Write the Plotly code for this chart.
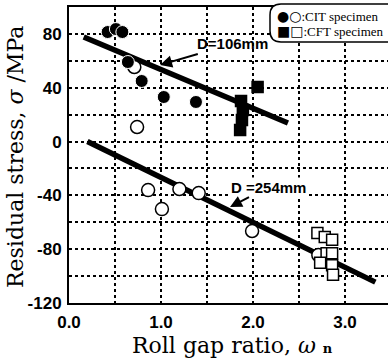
import plotly.graph_objects as go

# ---- data ----
# CIT specimens, D = 106 mm (filled circles)
cit106_filled_x = [0.42, 0.51, 0.58, 0.64, 0.79, 1.03, 1.38]
cit106_filled_y = [81.4, 83.6, 81.4, 59.1, 45.0, 33.1, 29.4]
# CIT specimens, D = 106 mm (open circles)
cit106_open_x = [0.71, 0.74]
cit106_open_y = [55.4, 10.8]
# CIT specimens, D = 254 mm (open circles)
cit254_x = [0.86, 1.01, 1.20, 1.41, 1.99, 2.71]
cit254_y = [-36.1, -50.2, -35.3, -38.3, -66.5, -84.4]
# CFT specimens, D = 106 mm (filled squares)
cft106_x = [2.05, 1.87, 1.89, 1.88, 1.86]
cft106_y = [40.5, 30.1, 23.4, 16.0, 8.5]
# CFT specimens, D = 254 mm (open squares)
cft254_x = [2.70, 2.78, 2.86, 2.80, 2.86, 2.73, 2.86, 2.87]
cft254_y = [-68, -71, -73, -83, -83, -90, -92, -99]
# regression lines
fit106_x = [0.16, 2.38]
fit106_y = [77.7, 13.8]
fit254_x = [0.20, 3.33]
fit254_y = [0.0, -104.5]

y_ticks = [-120, -100, -80, -60, -40, -20, 0, 20, 40, 60, 80, 100]
y_labels = ["-120", "", "-80", "", "-40", "", "0", "", "40", "", "80", ""]
x_ticks = [0.0, 0.5, 1.0, 1.5, 2.0, 2.5, 3.0]
x_labels = ["0.0", "", "1.0", "", "2.0", "", "3.0"]

fig = go.Figure()

fig.add_trace(go.Scatter(x=fit106_x, y=fit106_y, mode="lines",
                         line=dict(color="black", width=5.5)))
fig.add_trace(go.Scatter(x=fit254_x, y=fit254_y, mode="lines",
                         line=dict(color="black", width=5.5)))

fig.add_trace(go.Scatter(x=cit106_open_x, y=cit106_open_y, mode="markers",
                         marker=dict(symbol="circle", size=13, color="white",
                                     line=dict(color="black", width=1.5))))
fig.add_trace(go.Scatter(x=cit106_filled_x, y=cit106_filled_y, mode="markers",
                         marker=dict(symbol="circle", size=13, color="black",
                                     line=dict(color="white", width=1))))
fig.add_trace(go.Scatter(x=cit254_x, y=cit254_y, mode="markers",
                         marker=dict(symbol="circle", size=13, color="white",
                                     line=dict(color="black", width=1.5))))
fig.add_trace(go.Scatter(x=cft106_x, y=cft106_y, mode="markers",
                         marker=dict(symbol="square", size=11, color="black",
                                     line=dict(color="black", width=1.5))))
fig.add_trace(go.Scatter(x=cft254_x, y=cft254_y, mode="markers",
                         marker=dict(symbol="square", size=11, color="white",
                                     line=dict(color="black", width=1.5))))

L, T, B = 69, 7, 57
W, H = 388, 360
pw, ph = W - L, H - T - B


def px(xp):
    return (xp - L) / pw


def py(yp):
    return (H - B - yp) / ph


# rounded legend box
x0, x1, y0, y1, r = px(270), px(400), py(4), py(42), 11
rx, ry = r / pw, r / ph
path = (f"M {x0+rx},{y0} L {x1},{y0} L {x1},{y1} L {x0+rx},{y1} "
        f"Q {x0},{y1} {x0},{y1+ry} L {x0},{y0-ry} Q {x0},{y0} {x0+rx},{y0} Z")
fig.add_shape(type="path", path=path, xref="paper", yref="paper",
              line=dict(color="black", width=1.5), fillcolor="white", layer="above")

serif = "Liberation Serif"
sym = "<span style='font-family:DejaVu Sans;font-size:14px'>%s</span>"
fig.add_annotation(x=px(275), y=py(16), xref="paper", yref="paper",
                   text=sym % "●○" + ":CIT specimen", showarrow=False,
                   xanchor="left", yanchor="middle",
                   font=dict(family=serif, size=13, color="black"))
fig.add_annotation(x=px(275), y=py(31), xref="paper", yref="paper",
                   text=sym % "■□" + ":CFT specimen", showarrow=False,
                   xanchor="left", yanchor="middle",
                   font=dict(family=serif, size=13, color="black"))

bold = dict(family="Liberation Sans", size=15, color="black", weight="bold")
fig.add_annotation(x=0.99, y=56.9, xref="x", yref="y", text="D=106mm",
                   showarrow=True, ax=72, ay=-21, arrowhead=2, arrowsize=1.2,
                   arrowwidth=2, arrowcolor="black", font=bold,
                   xanchor="center", yanchor="middle")
fig.add_annotation(x=1.75, y=-48.7, xref="x", yref="y", text="D =254mm",
                   showarrow=True, ax=38, ay=-20, arrowhead=2, arrowsize=1.2,
                   arrowwidth=2, arrowcolor="black", font=bold, bgcolor="white",
                   xanchor="center", yanchor="middle")

# axis titles
title_font = dict(family="DejaVu Serif", size=22, color="black")
fig.add_annotation(x=px(15), y=py(157), xref="paper", yref="paper",
                   text="Residual stress, <i>σ</i> /MPa", textangle=-90,
                   showarrow=False, font=title_font,
                   xanchor="center", yanchor="middle")
fig.add_annotation(x=px(232), y=py(345), xref="paper", yref="paper",
                   text="Roll gap ratio, <i>ω</i> <b><span style='font-size:13px'>n</span></b>",
                   showarrow=False, font=title_font,
                   xanchor="center", yanchor="middle")

tickfont = dict(family="Liberation Sans", size=17, color="black", weight="bold")
fig.update_xaxes(range=[0, pw / 92.0], tickvals=x_ticks, ticktext=x_labels,
                 showgrid=True, gridcolor="black", griddash="dot", gridwidth=1.5,
                 showline=True, linecolor="black", linewidth=2, mirror=True,
                 ticks="", tickfont=tickfont, zeroline=False, ticklabelstandoff=3)
fig.update_yaxes(range=[-120, 100], tickvals=y_ticks, ticktext=y_labels,
                 showgrid=True, gridcolor="black", griddash="dot", gridwidth=1.5,
                 showline=True, linecolor="black", linewidth=2, mirror=False,
                 ticks="", tickfont=tickfont, zeroline=False, ticklabelstandoff=2)

fig.update_layout(width=W, height=H, showlegend=False,
                  margin=dict(l=L, r=0, t=T, b=B, autoexpand=False),
                  plot_bgcolor="white", paper_bgcolor="white")

fig.write_html("out.html")
